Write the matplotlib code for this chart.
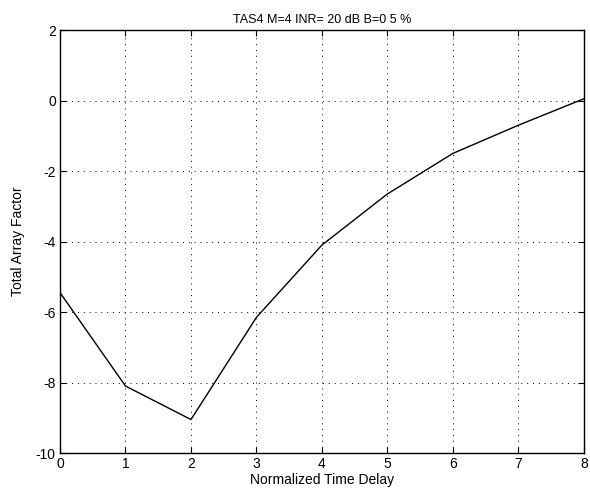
import matplotlib
matplotlib.use("Agg")
import matplotlib.pyplot as plt

plt.rcParams['font.family'] = ['Liberation Sans', 'DejaVu Sans']
plt.rcParams['axes.unicode_minus'] = False

delay = [0, 1, 2, 3, 4, 5, 6, 7, 8]
array_factor = [-5.45, -8.1, -9.05, -6.15, -4.1, -2.65, -1.5, -0.7, 0.05]
x_ticks = [0, 1, 2, 3, 4, 5, 6, 7, 8]
y_ticks = [-10, -8, -6, -4, -2, 0, 2]

fig = plt.figure(figsize=(5.9, 4.97), dpi=100)
ax = fig.add_axes([0.1017, 0.0885, 0.888, 0.8511])
ax.plot(delay, array_factor, color='black', linewidth=1.0)

ax.set_xlim(0, 8)
ax.set_ylim(-10, 2)
ax.set_xticks(x_ticks)
ax.set_yticks(y_ticks)
ax.grid(True, linestyle=(0, (1, 5)), color='black', linewidth=0.7)
ax.tick_params(direction='in', top=True, right=True, length=4, labelsize=10, pad=3)
for s in ax.spines.values():
    s.set_linewidth(1.0)

ax.set_xlabel('Normalized Time Delay', fontsize=10, labelpad=1)
ax.set_ylabel('Total Array Factor', fontsize=10, labelpad=8)
ax.set_title('TAS4 M=4 INR= 20 dB B=0 5 %', fontsize=9, pad=5)

fig.savefig('out.png', dpi=100)
